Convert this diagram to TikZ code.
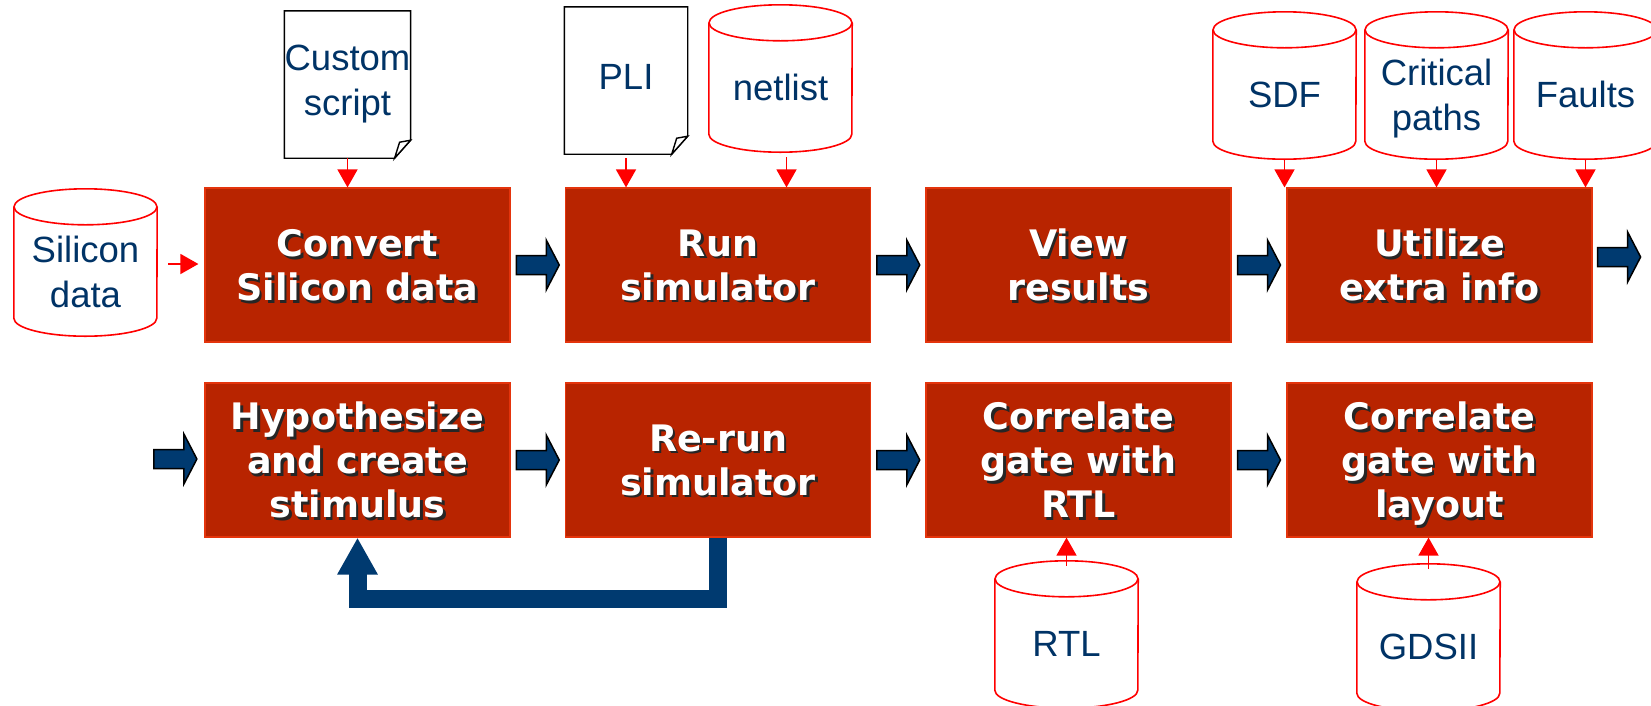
\documentclass[tikz,border=0pt]{standalone}
\usepackage{fontspec}
\setmainfont{Liberation Sans}
\newfontfamily\boxfont{DejaVu Sans}
\usetikzlibrary{arrows.meta,calc}
\definecolor{boxred}{RGB}{184,36,0}
\definecolor{boxedge}{RGB}{228,52,12}
\definecolor{navy}{RGB}{0,51,102}
\definecolor{arrowblue}{RGB}{0,58,112}

\newcommand\procbox[3]{%
  \node[pbox] (#1) at (#2) {};
  \node[ptext, text=black!85] (#1-sh) at ([xshift=2.5pt,yshift=-2.5pt]#1.center) {#3};
  \node[ptext, text=white] (#1-txt) at (#1.center) {#3};
}
\newcommand\cylout[1]{%
  \draw[redline] (#1.north west) -- ([yshift=18pt]#1.south west)
    arc[start angle=180, end angle=360, x radius=71.5pt, y radius=18pt] -- (#1.north east);
  \draw[redline] (#1.north) ellipse [x radius=71.5pt, y radius=18pt];
}
\newcommand\docout[1]{%
  \draw[docline] (#1.north west) -- (#1.north east) -- ([yshift=10pt]#1.south east)
    -- ([xshift=-16pt,yshift=-8pt]#1.south east) -- ([yshift=-8pt]#1.south west) -- cycle;
  \draw[docline, fill=white] ([xshift=-16pt,yshift=-8pt]#1.south east)
    -- ([xshift=-11pt,yshift=8pt]#1.south east) -- ([yshift=10pt]#1.south east) -- cycle;
}

\begin{document}
\begin{tikzpicture}[x=1pt,y=-1pt,
  pbox/.style={rectangle, fill=boxred, draw=boxedge, line width=1.2pt,
    minimum width=305pt, minimum height=154pt, inner sep=0pt},
  ptext/.style={font=\boxfont\bfseries\fontsize{36.5}{44}\selectfont,
    align=center, inner sep=0pt, text depth=0pt},
  dbshape/.style={rectangle, inner sep=0pt, minimum width=143pt, minimum height=129pt,
    text=navy, align=center, text depth=0pt, font=\fontsize{36.5}{45}\selectfont},
  docshape/.style={rectangle, inner sep=0pt, minimum width=123pt, minimum height=139pt,
    text=navy, align=center, text depth=0pt, font=\fontsize{36.5}{45}\selectfont},
  redline/.style={draw=red, line width=1.6pt},
  redarr/.style={draw=red, line width=1.6pt, -{Triangle[width=20pt,length=18pt]}},
  docline/.style={draw=black, line width=1.4pt, line join=miter},
  fb/.style={draw=arrowblue, line width=18pt, -{Triangle[width=38pt,length=37pt]}},
  blockarrow/.pic={\draw[fill=arrowblue, draw=black, line width=1.5pt, line join=miter]
    (-21.5,-9.5) -- (8.5,-9.5) -- (8.5,-25) -- (21.5,0) -- (8.5,25) -- (8.5,9.5) -- (-21.5,9.5) -- cycle;}
]
\useasboundingbox (0,0) rectangle (1651,705);
\fill[white] (0,0) rectangle (1651,705);
\clip (0,0) rectangle (1651,705);

% process boxes
\procbox{convert}{357.5,265}{Convert\\Silicon data}
\procbox{run}{718,265}{Run\\simulator}
\procbox{view}{1078.5,265}{View\\results}
\procbox{util}{1439.5,265}{Utilize\\extra info}
\procbox{hyp}{357.5,460}{Hypothesize\\and create\\stimulus}
\procbox{rerun}{718,460}{Re-run\\simulator}
\procbox{corrrtl}{1078.5,460}{Correlate\\gate with\\RTL}
\procbox{corrlay}{1439.5,460}{Correlate\\gate with\\layout}

% databases
\node[dbshape] (silicon) at (85.5,271.5) {Silicon\\data};
\node[dbshape] (netlist) at (780.5,87.5) {netlist};
\node[dbshape] (sdf) at (1284.5,94.5) {SDF};
\node[dbshape] (crit) at (1436.5,94.5) {Critical\\paths};
\node[dbshape] (faults) at (1585.5,94.5) {Faults};
\node[dbshape] (rtl) at (1066.5,643.5) {RTL};
\node[dbshape] (gdsii) at (1428.5,646.5) {GDSII};
\foreach \n in {silicon,netlist,sdf,crit,faults,rtl,gdsii} {\cylout{\n}}

% documents
\node[docshape] (custom) at (347.5,80.5) {Custom\\script};
\node[docshape] (pli) at (626,76.5) {PLI};
\docout{custom}
\docout{pli}

% red input arrows
\draw[redarr] ([yshift=-8pt]custom.south) -- (custom.south |- convert.north);
\draw[redarr] ([yshift=-12pt]pli.south) -- (pli.south |- run.north);
\draw[redarr] ($(netlist.south)+(6,5)$) -- ($(netlist.south |- run.north)+(6,0)$);
\draw[redarr] ([yshift=-1pt]sdf.south) -- (sdf.south |- util.north);
\draw[redarr] ([yshift=-1pt]crit.south) -- (crit.south |- util.north);
\draw[redarr] ([yshift=-1pt]faults.south) -- (faults.south |- util.north);
\draw[redarr] ($(silicon.east |- convert.west)+(11,-1)$) -- ($(convert.west)+(-6,-1)$);
\draw[redarr] ([yshift=13pt]rtl.north) -- (rtl.north |- corrrtl.south);
\draw[redarr] ([yshift=13pt]gdsii.north) -- (gdsii.north |- corrlay.south);

% block arrows
\path ($(convert.east)!0.5!(run.west)$) pic (ba1) {blockarrow};
\path ($(run.east)!0.5!(view.west)$) pic (ba2) {blockarrow};
\path ($(view.east)!0.5!(util.west)$) pic (ba3) {blockarrow};
\path ($(util.east)+(26.5,-8)$) pic (ba4) {blockarrow};
\path ($(hyp.west)+(-29,-1)$) pic (ba5) {blockarrow};
\path ($(hyp.east)!0.5!(rerun.west)$) pic (ba6) {blockarrow};
\path ($(rerun.east)!0.5!(corrrtl.west)$) pic (ba7) {blockarrow};
\path ($(corrrtl.east)!0.5!(corrlay.west)$) pic (ba8) {blockarrow};

% feedback loop
\draw[fb] (rerun.south) -- ++(0,61.5) -| (hyp.south);
\end{tikzpicture}
\end{document}
